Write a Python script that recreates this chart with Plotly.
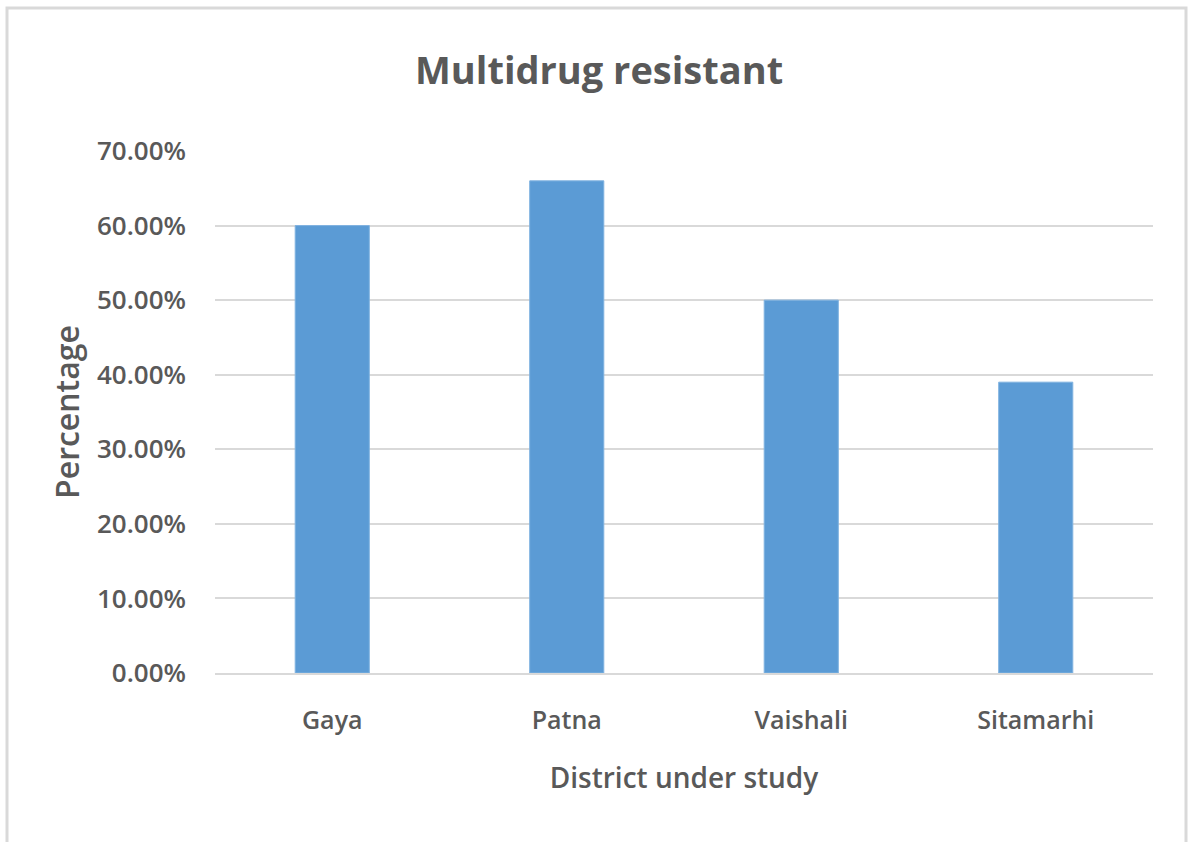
import plotly.graph_objects as go

# Multidrug resistance share by district
districts = ["Gaya", "Patna", "Vaishali", "Sitamarhi"]
resistant_share = [0.60, 0.66, 0.50, 0.39]
y_ticks = [0.0, 0.1, 0.2, 0.3, 0.4, 0.5, 0.6, 0.7]
y_tick_labels = ["0.00%", "10.00%", "20.00%", "30.00%", "40.00%", "50.00%", "60.00%", "70.00%"]

W, H = 1191, 842
L, R, T, B = 215, 38, 151, 169
plot_w = W - L - R
plot_h = H - T - B

text_color = "#595959"
grid_color = "#d9d9d9"
font_family = "Open Sans, Liberation Sans, sans-serif"

fig = go.Figure(
    go.Bar(
        x=districts,
        y=resistant_share,
        marker=dict(color="#5b9bd5", line=dict(color="#7fb2e0", width=1)),
        hoverinfo="x+y",
    )
)

def px_to_paper_x(px):
    return (px - L) / plot_w

def px_to_paper_y(py):
    return (H - B - py) / plot_h

fig.update_layout(
    width=W,
    height=H,
    margin=dict(l=L, r=R, t=T, b=B),
    paper_bgcolor="white",
    plot_bgcolor="white",
    bargap=0.684,
    showlegend=False,
    title=dict(
        text="Multidrug resistant",
        x=0.503,
        xanchor="center",
        y=1 - 71 / H,
        yanchor="middle",
        font=dict(family=font_family, size=38, color=text_color, weight="bold"),
    ),
    font=dict(family=font_family, color=text_color),
    shapes=[
        dict(
            type="rect",
            xref="paper",
            yref="paper",
            x0=px_to_paper_x(7),
            x1=px_to_paper_x(1186),
            y0=px_to_paper_y(H + 20),
            y1=px_to_paper_y(8),
            line=dict(color=grid_color, width=3),
            fillcolor="rgba(0,0,0,0)",
            layer="below",
        )
    ],
)

fig.update_xaxes(
    showgrid=False,
    showline=True,
    linecolor=grid_color,
    linewidth=2,
    ticks="",
    tickfont=dict(family=font_family, size=25, color=text_color, weight=600),
    ticklabelstandoff=24,
    title=dict(
        text="District under study",
        font=dict(family=font_family, size=28, color=text_color, weight=600),
        standoff=33,
    ),
)

fig.update_yaxes(
    range=[0, 0.7],
    tickvals=y_ticks,
    ticktext=y_tick_labels,
    showgrid=True,
    gridcolor=grid_color,
    gridwidth=2,
    zeroline=False,
    showline=False,
    ticks="",
    tickfont=dict(family=font_family, size=26, color=text_color, weight=600),
    ticklabelstandoff=28,
    title=dict(
        text="Percentage",
        font=dict(family=font_family, size=32, color=text_color, weight=600),
        standoff=7,
    ),
)

fig.write_html("out.html")
